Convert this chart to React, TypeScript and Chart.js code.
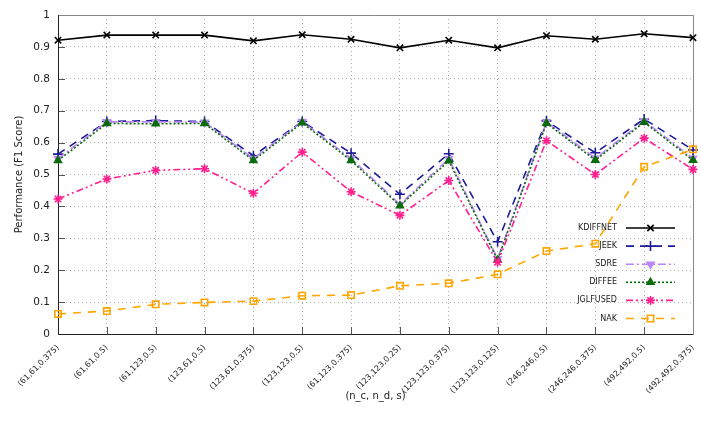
import React, { useEffect, useRef } from 'react';
import { Chart, registerables } from 'chart.js';
import { drawPoint } from 'chart.js/helpers';

Chart.register(...registerables);

const categories = [
  '(61,61,0.375)', '(61,61,0.5)', '(61,123,0.5)', '(123,61,0.5)', '(123,61,0.375)',
  '(123,123,0.5)', '(61,123,0.375)', '(123,123,0.25)', '(123,123,0.375)', '(123,123,0.125)',
  '(246,246,0.5)', '(246,246,0.375)', '(492,492,0.5)', '(492,492,0.375)',
];

const kdiffnet = [0.921, 0.937, 0.937, 0.937, 0.919, 0.938, 0.924, 0.897, 0.921, 0.897, 0.935, 0.924, 0.941, 0.929];
const jeek = [0.564, 0.666, 0.669, 0.666, 0.559, 0.666, 0.567, 0.438, 0.565, 0.289, 0.668, 0.568, 0.674, 0.577];
const sdre = [0.550, 0.665, 0.665, 0.664, 0.550, 0.666, 0.550, 0.406, 0.550, 0.236, 0.665, 0.551, 0.668, 0.551];
const diffee = [0.544, 0.660, 0.659, 0.660, 0.544, 0.662, 0.544, 0.402, 0.543, 0.232, 0.661, 0.545, 0.664, 0.545];
const jglfused = [0.423, 0.486, 0.513, 0.518, 0.441, 0.570, 0.446, 0.372, 0.481, 0.225, 0.606, 0.500, 0.614, 0.516];
const nak = [0.063, 0.072, 0.093, 0.099, 0.103, 0.120, 0.122, 0.151, 0.159, 0.187, 0.260, 0.283, 0.524, 0.579];

const seriesNames = ['KDIFFNET', 'JEEK', 'SDRE', 'DIFFEE', 'JGLFUSED', 'NAK'];

const xTitle = '(n_c, n_d, s)';
const yTitle = 'Performance (F1 Score)';
const FONT = "'DejaVu Sans', sans-serif";

const frameAndLegend = {
  id: 'frameAndLegend',
  beforeDatasetsDraw(chart: any) {
    const { ctx, chartArea: a, scales } = chart;
    ctx.save();
    ctx.strokeStyle = '#555';
    ctx.lineWidth = 1;
    ctx.setLineDash([]);
    const xs = scales.x;
    for (let i = 0; i < xs.ticks.length; i++) {
      const px = Math.round(xs.getPixelForTick(i)) + 0.5;
      ctx.beginPath();
      ctx.moveTo(px, a.bottom);
      ctx.lineTo(px, a.bottom - 7);
      ctx.stroke();
    }
    const ys = scales.y;
    for (let i = 0; i < ys.ticks.length; i++) {
      const py = Math.round(ys.getPixelForTick(i)) + 0.5;
      ctx.beginPath();
      ctx.moveTo(a.left, py);
      ctx.lineTo(a.left + 7, py);
      ctx.stroke();
    }
    ctx.strokeStyle = '#888';
    ctx.beginPath();
    ctx.moveTo(a.left, a.top + 0.5);
    ctx.lineTo(a.right + 0.5, a.top + 0.5);
    ctx.lineTo(a.right + 0.5, a.bottom);
    ctx.stroke();
    ctx.strokeStyle = '#222';
    ctx.beginPath();
    ctx.moveTo(a.left + 0.5, a.top);
    ctx.lineTo(a.left + 0.5, a.bottom + 0.5);
    ctx.lineTo(a.right + 0.5, a.bottom + 0.5);
    ctx.stroke();

    const textRight = a.right - 76;
    const lineL = a.right - 67;
    const lineR = a.right - 18;
    const y0 = a.bottom - 106;
    const step = 18.1;
    ctx.font = `8px ${FONT}`;
    ctx.textAlign = 'right';
    ctx.textBaseline = 'middle';
    chart.data.datasets.forEach((ds: any, i: number) => {
      const y = y0 + i * step;
      ctx.fillStyle = '#222';
      ctx.fillText(ds.label, textRight, y);
      ctx.strokeStyle = ds.borderColor;
      ctx.lineWidth = ds.borderWidth;
      ctx.setLineDash(ds.borderDash || []);
      ctx.beginPath();
      ctx.moveTo(lineL, y);
      ctx.lineTo(lineR, y);
      ctx.stroke();
      ctx.setLineDash([]);
      ctx.fillStyle = ds.pointBackgroundColor;
      ctx.strokeStyle = ds.pointBorderColor;
      ctx.lineWidth = ds.pointBorderWidth;
      drawPoint(ctx, {
        pointStyle: ds.pointStyle,
        radius: ds.pointRadius,
        rotation: ds.pointRotation || 0,
        borderWidth: ds.pointBorderWidth,
      } as any, (lineL + lineR) / 2, y);
    });
    ctx.restore();
  },
};

export default function App() {
  const ref = useRef<HTMLCanvasElement>(null);
  useEffect(() => {
    if (!ref.current) return;
    const mk = (label: string, data: number[], color: string, dash: number[], style: string, extra: any = {}) => ({
      label,
      data,
      borderColor: color,
      backgroundColor: color,
      borderWidth: 1.6,
      borderDash: dash,
      pointStyle: style,
      pointRadius: 4.5,
      pointBorderColor: color,
      pointBackgroundColor: color,
      pointBorderWidth: 1.6,
      fill: false,
      tension: 0,
      ...extra,
    });
    const chart = new Chart(ref.current, {
      type: 'line',
      data: {
        labels: categories,
        datasets: [
          mk(seriesNames[0], kdiffnet, '#000000', [], 'crossRot', { order: 5 }),
          mk(seriesNames[1], jeek, '#1c1c96', [8, 6], 'cross', { order: 4, pointRadius: 5 }),
          mk(seriesNames[2], sdre, '#bc86f8', [8, 3, 2, 3], 'triangle', { order: 3, pointRotation: 180, pointRadius: 4 }),
          mk(seriesNames[3], diffee, '#0a6b0a', [2, 2], 'triangle', { order: 2, pointRadius: 4 }),
          mk(seriesNames[4], jglfused, '#ff1f8f', [7, 3, 2, 3, 2, 3], 'star', { order: 1 }),
          mk(seriesNames[5], nak, '#ffa500', [8, 7], 'rect', { order: 0, pointBackgroundColor: 'rgba(255,255,255,0)', pointRadius: 4.5 }),
        ],
      },
      options: {
        animation: false,
        responsive: false,
        devicePixelRatio: 1,
        layout: { padding: { top: 15, right: 8, left: 0, bottom: 0 } },
        plugins: { legend: { display: false }, tooltip: { enabled: false } },
        scales: {
          x: {
            type: 'category',
            offset: false,
            afterFit: (s: any) => { s.height = 87; s.paddingLeft = 0; s.paddingRight = 0; },
            grid: { display: true, color: '#b0b0b0', drawTicks: false, lineWidth: 1 },
            border: { display: false, dash: [1, 3] },
            ticks: {
              autoSkip: false,
              maxRotation: 45,
              minRotation: 45,
              padding: 9,
              color: '#222',
              font: { family: FONT, size: 8 },
            },
            title: {
              display: true,
              text: xTitle,
              color: '#222',
              font: { family: FONT, size: 10 },
              padding: { top: 0, bottom: 19 },
            },
          },
          y: {
            min: 0,
            max: 1,
            afterFit: (s: any) => { s.width = 58; s.paddingTop = 0; s.paddingBottom = 0; },
            grid: { display: true, color: '#b0b0b0', drawTicks: false, lineWidth: 1 },
            border: { display: false, dash: [1, 3] },
            ticks: {
              stepSize: 0.1,
              padding: 8,
              color: '#222',
              font: { family: FONT, size: 10.5 },
              callback: (v: any) => String(Number(Number(v).toFixed(1))),
            },
            title: {
              display: true,
              text: yTitle,
              color: '#222',
              font: { family: FONT, size: 10 },
              padding: { top: 13.5, bottom: 0 },
            },
          },
        },
      },
      plugins: [frameAndLegend],
    } as any);
    return () => chart.destroy();
  }, []);
  return (
    <div style={{ position: 'absolute', left: 0, top: 0, width: 701, height: 421, background: '#fff' }}>
      <canvas ref={ref} width={701} height={421} style={{ width: 701, height: 421 }} />
    </div>
  );
}
